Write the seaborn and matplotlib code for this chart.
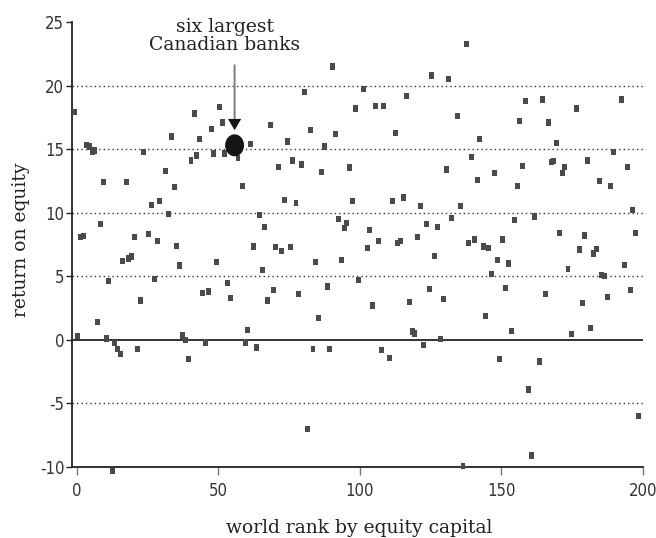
import matplotlib
matplotlib.use("Agg")
import matplotlib.pyplot as plt
from matplotlib.path import Path
import numpy as np
import pandas as pd
import seaborn as sns

# world rank (by equity capital) and return on equity
rank = [-0.7, 0.1, 1.3, 2.2, 3.4, 4.6, 5.5, 6.3, 7.3, 8.3, 9.4, 10.4, 11.3, 12.4,
        13.3, 14.4, 15.3, 16.2, 17.4, 18.3, 19.4, 20.3, 21.4, 22.3, 23.4, 25.3,
        26.4, 27.3, 28.4, 29.3, 31.3, 32.4, 33.4, 34.3, 35.3, 36.3, 37.4, 38.4,
        39.4, 40.3, 41.4, 42.4, 43.4, 44.4, 45.4, 46.4, 47.4, 48.4, 49.4, 50.4,
        51.4, 52.3, 53.3, 54.3, 56.9, 58.4, 59.5, 60.4, 61.3, 62.4, 63.4, 64.4,
        65.4, 66.4, 67.4, 68.3, 69.4, 70.3, 71.3, 72.4, 73.4, 74.4, 75.4, 76.3,
        77.4, 78.4, 79.3, 80.3, 81.4, 82.4, 83.4, 84.4, 85.4, 86.3, 87.3, 88.4,
        89.4, 90.4, 91.4, 92.4, 93.4, 94.4, 95.4, 96.4, 97.4, 98.4, 99.4, 101.4,
        102.5, 103.4, 104.5, 105.4, 106.4, 107.5, 108.4, 110.4, 111.5, 112.4,
        113.4, 114.4, 115.4, 116.4, 117.4, 118.5, 119.4, 120.4, 121.4, 122.4,
        123.4, 124.4, 125.4, 126.4, 127.5, 128.4, 129.5, 130.4, 131.4, 132.5,
        134.4, 135.4, 136.4, 137.5, 138.4, 139.4, 140.4, 141.5, 142.4, 143.5,
        144.5, 145.5, 146.5, 147.4, 148.5, 149.4, 150.5, 151.4, 152.5, 153.5,
        154.5, 155.5, 156.4, 157.5, 158.4, 159.5, 160.5, 161.5, 163.5, 164.5,
        165.4, 166.5, 167.5, 168.5, 169.4, 170.5, 171.5, 172.4, 173.5, 174.6,
        176.5, 177.5, 178.5, 179.5, 180.5, 181.5, 182.5, 183.4, 184.5, 185.4,
        186.5, 187.5, 188.5, 189.5, 192.4, 193.5, 194.4, 195.5, 196.4, 197.5,
        198.5]
roe = [17.9, 0.3, 8.1, 8.15, 15.3, 15.2, 14.8, 14.9, 1.4, 9.1, 12.4, 0.1, 4.6, -10.3,
       -0.26, -0.7, -1.1, 6.2, 12.4, 6.4, 6.55, 8.1, -0.7, 3.1, 14.8, 8.3,
       10.6, 4.8, 7.8, 10.9, 13.3, 9.9, 16.0, 12.0, 7.4, 5.85, 0.35, -0.03,
       -1.5, 14.1, 17.8, 14.5, 15.8, 3.7, -0.2, 3.8, 16.6, 14.65, 6.1, 18.3,
       17.1, 14.65, 4.5, 3.3, 14.3, 12.1, -0.2, 0.75, 15.4, 7.35, -0.6, 9.8,
       5.5, 8.9, 3.1, 16.9, 3.9, 7.3, 13.6, 7.0, 11.0, 15.6, 7.3, 14.1,
       10.75, 3.6, 13.8, 19.5, -7.0, 16.5, -0.7, 6.1, 1.7, 13.2, 15.2, 4.2,
       -0.7, 21.5, 16.2, 9.5, 6.3, 8.8, 9.2, 13.55, 10.9, 18.2, 4.7, 19.7,
       7.2, 8.65, 2.7, 18.4, 7.8, -0.8, 18.4, -1.4, 10.9, 16.3,
       7.6, 7.8, 11.2, 19.15, 2.95, 0.65, 0.5, 8.1, 10.5, -0.4,
       9.1, 4.0, 20.8, 6.6, 8.9, 0.05, 3.2, 13.4, 20.5, 9.6,
       17.6, 10.5, -9.9, 23.3, 7.6, 14.4, 7.9, 12.6, 15.8, 7.35,
       1.9, 7.2, 5.15, 13.15, 6.3, -1.5, 7.9, 4.1, 6.0, 0.7,
       9.4, 12.1, 17.2, 13.7, 18.8, -3.9, -9.1, 9.7, -1.7, 18.9,
       3.6, 17.1, 14.0, 14.05, 15.5, 8.4, 13.1, 13.6, 5.6, 0.45,
       18.2, 7.1, 2.9, 8.2, 14.1, 0.95, 6.8, 7.15, 12.5, 5.1,
       5.05, 3.4, 12.1, 14.8, 18.9, 5.9, 13.6, 3.95, 10.2, 8.4,
       -6.0]

# the six largest Canadian banks, drawn as one blob
canadian_rank = [55.7]
canadian_roe = [15.3]

x_ticks = [0, 50, 100, 150, 200]
y_ticks = [-10, -5, 0, 5, 10, 15, 20, 25]
dotted_levels = [-5, 5, 10, 15, 20]

df = pd.DataFrame({"rank": rank, "roe": roe})
banks = pd.DataFrame({"rank": canadian_rank, "roe": canadian_roe})

sns.set_theme(style="white")
plt.rcParams["font.family"] = ["DejaVu Serif"]
plt.rcParams["axes.unicode_minus"] = False

fig = plt.figure(figsize=(6.56, 5.38), dpi=100)
ax = fig.add_axes([72 / 656, 1 - 467 / 538, 571 / 656, 445 / 538])

for lvl in dotted_levels:
    ax.axhline(lvl, color="#333333", lw=1.0, ls=(0, (1, 2.2)), zorder=0)
ax.axhline(0, color="#222222", lw=1.3, zorder=1)

# slightly tall square marker
rect = Path([(-0.4, -0.5), (0.4, -0.5), (0.4, 0.5), (-0.4, 0.5), (-0.4, -0.5)],
            [Path.MOVETO, Path.LINETO, Path.LINETO, Path.LINETO, Path.CLOSEPOLY])
sns.scatterplot(data=df, x="rank", y="roe", marker=rect, s=20, color="#4a4a4a",
                edgecolor="none", linewidth=0, ax=ax, clip_on=False, zorder=3)

# oval blob for the Canadian banks
circ = Path.unit_circle()
oval = Path(circ.vertices * np.array([0.86, 1.0]), circ.codes)
sns.scatterplot(data=banks, x="rank", y="roe", marker=oval, s=250, color="#151515",
                edgecolor="none", linewidth=0, ax=ax, zorder=4)

# arrow: grey shaft, black head
ax.annotate("", xy=(canadian_rank[0], 17.2), xytext=(canadian_rank[0], 21.6),
            arrowprops=dict(arrowstyle="-", color="#7a7a7a", lw=1.4,
                            shrinkA=0, shrinkB=0), annotation_clip=False)
tri = Path([(-0.5, 0.43), (0.5, 0.43), (0.0, -0.43), (-0.5, 0.43)],
           [Path.MOVETO, Path.LINETO, Path.LINETO, Path.CLOSEPOLY])
ax.scatter(canadian_rank, [16.93], marker=tri, s=90, color="#151515",
           edgecolor="none", zorder=5)
ax.text(52.2, 25.35, "six largest\nCanadian banks", ha="center", va="top",
        fontsize=13.5, color="#222222", linespacing=1.05, clip_on=False)

tick_font = dict(family="DejaVu Sans", stretch="condensed")
ax.set_xlim(-1.75, 200)
ax.set_ylim(-10, 25)
ax.set_xticks(x_ticks)
ax.set_yticks(y_ticks)
ax.set_xticklabels([str(v) for v in x_ticks], fontdict=tick_font)
ax.set_yticklabels([str(v) for v in y_ticks], fontdict=tick_font)
ax.tick_params(axis="x", direction="out", length=6, width=1.0, color="#777777",
               pad=5, labelsize=12, labelcolor="#333333", bottom=True)
ax.tick_params(axis="y", direction="out", length=4, width=1.0, color="#222222",
               pad=1.5, labelsize=12, labelcolor="#333333", left=True)

for side in ["top", "right"]:
    ax.spines[side].set_visible(False)
for side in ["left", "bottom"]:
    ax.spines[side].set_color("#222222")
    ax.spines[side].set_linewidth(1.3)

ax.set_xlabel("world rank by equity capital", fontsize=13.5, color="#222222")
ax.set_ylabel("return on equity", fontsize=13.5, color="#222222")
ax.xaxis.set_label_coords(0.5026, -0.116)
ax.yaxis.set_label_coords(-0.0736, 0.51)

fig.savefig("out.png", dpi=100)
